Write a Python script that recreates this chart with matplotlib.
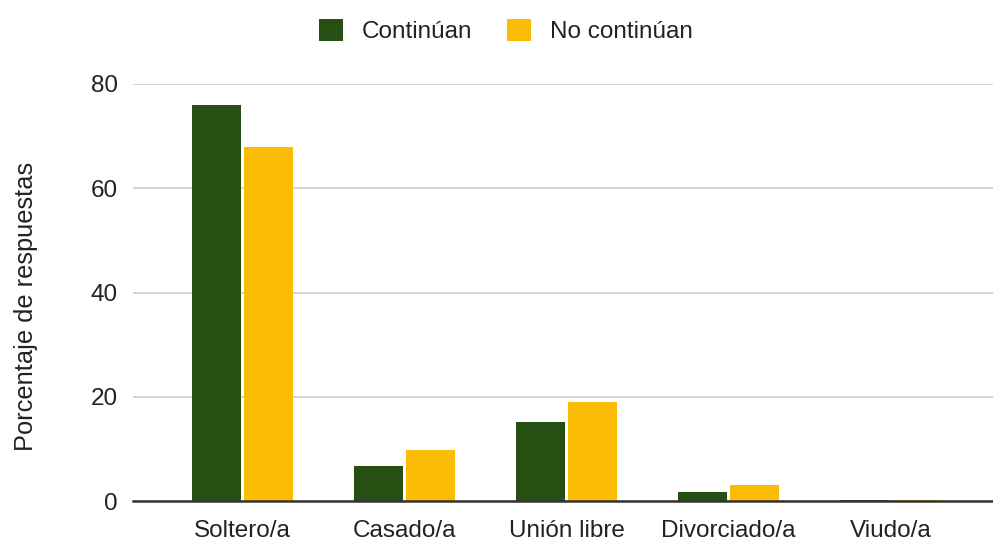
import matplotlib.pyplot as plt
import numpy as np

plt.rcParams['font.family'] = ['Liberation Sans', 'DejaVu Sans']

categorias = ['Soltero/a', 'Casado/a', 'Unión libre', 'Divorciado/a', 'Viudo/a']
continuan = [76.0, 6.8, 15.1, 1.8, 0.2]
no_continuan = [67.9, 9.7, 18.9, 3.0, 0.2]
series = ['Continúan', 'No continúan']
yticks = [0, 20, 40, 60, 80]

verde = '#274e13'
amarillo = '#fbbc04'

fig = plt.figure(figsize=(9.93, 5.41), dpi=100)
ax = fig.add_axes([133/993, 1 - 501/541, 1 - 133/993, (501 - 84)/541])

x = np.arange(len(categorias))
w = 0.305
d = 0.162
ax.bar(x - d, continuan, width=w, color=verde, label=series[0], zorder=2)
ax.bar(x + d, no_continuan, width=w, color=amarillo, label=series[1], zorder=2)

ax.set_xlim(-0.676, 4.633)
ax.set_ylim(0, 80)
ax.set_yticks(yticks)
ax.set_xticks(x)
ax.set_xticklabels(categorias)
ax.tick_params(axis='both', length=0, labelsize=17.5, colors='#222222')
ax.tick_params(axis='x', pad=14)
ax.tick_params(axis='y', pad=11)
ax.grid(axis='y', color='#cccccc', linewidth=1.2, zorder=0)
ax.set_axisbelow(True)

for s in ['top', 'right', 'left']:
    ax.spines[s].set_visible(False)
ax.spines['bottom'].set_color('#333333')
ax.spines['bottom'].set_linewidth(1.8)
ax.spines['bottom'].set_zorder(3)

fig.text(26/993, 1 - 306/541, 'Porcentaje de respuestas', rotation=90,
         ha='center', va='center', fontsize=18.3, color='#222222')

fig.legend(loc='center', bbox_to_anchor=(505.5/993, 1 - 31/541), ncol=2,
           frameon=False, fontsize=17.5, handlelength=1.0, handleheight=1.0,
           handletextpad=0.76, columnspacing=1.44, labelcolor='#222222')

fig.savefig('out.png', dpi=100)
